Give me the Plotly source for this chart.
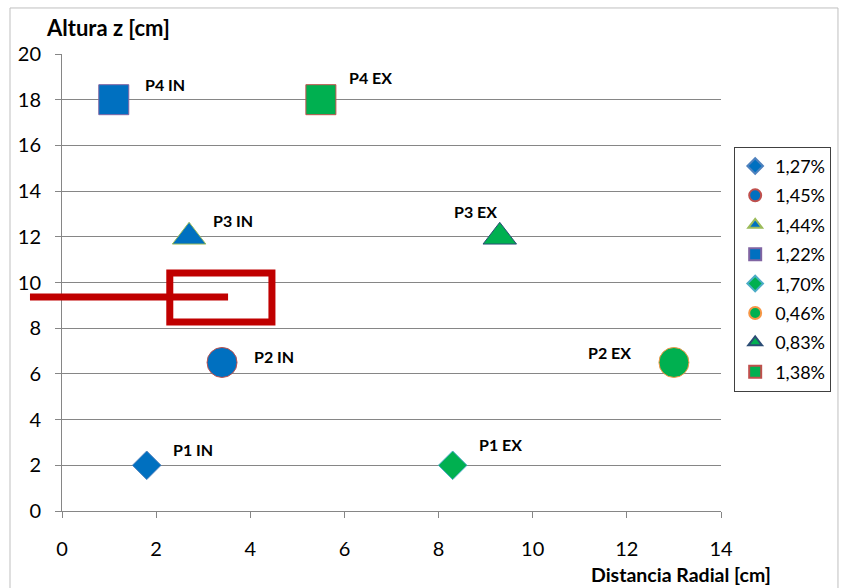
import plotly.graph_objects as go

# Measurement points: radial distance and height, with the value shown in the legend
point_names = ["P1 IN", "P2 IN", "P3 IN", "P4 IN", "P1 EX", "P2 EX", "P3 EX", "P4 EX"]
radial_cm = [1.8, 3.4, 2.7, 1.1, 8.3, 13.0, 9.3, 5.5]
height_cm = [2, 6.5, 12, 18, 2, 6.5, 12, 18]
legend_values = ["1,27%", "1,45%", "1,44%", "1,22%", "1,70%", "0,46%", "0,83%", "1,38%"]

x_ticks = [0, 2, 4, 6, 8, 10, 12, 14]
y_ticks = [0, 2, 4, 6, 8, 10, 12, 14, 16, 18, 20]

BLUE = "#0070C0"
GREEN = "#00B050"
symbols = ["diamond", "circle", "triangle-up", "square"] * 2
fills = [BLUE] * 4 + [GREEN] * 4
outlines = ["#4F81BD", "#C0504D", "#9BBB59", "#8064A2",
            "#4BACC6", "#F79646", "#2C4D75", "#C0504D"]
sizes = [22, 30, 29, 30, 22, 30, 29, 30]

# label offsets (pixels) and anchor for each point label
label_shift = [(24, 16, "left"), (30, 6, "left"), (22, 16, "left"), (29, 15, "left"),
               (24, 21, "left"), (-41, 10, "right"), (-1, 25, "right"), (26, 22, "left")]

FONT = "Lato, 'Liberation Sans', sans-serif"

fig = go.Figure()
for i, name in enumerate(point_names):
    fig.add_trace(go.Scatter(
        x=[radial_cm[i]], y=[height_cm[i]],
        mode="markers",
        name=legend_values[i],
        legendgroup=f"g{i}",
        marker=dict(symbol=symbols[i], size=sizes[i], color=fills[i],
                    line=dict(color=outlines[i], width=1)),
        hoverinfo="skip",
    ))

annotations = []
for i, name in enumerate(point_names):
    dx, dy, anchor = label_shift[i]
    annotations.append(dict(
        x=radial_cm[i], y=height_cm[i], xref="x", yref="y",
        text=f"<b>{name}</b>", showarrow=False,
        xanchor=anchor, yanchor="middle", xshift=dx, yshift=dy,
        font=dict(family=FONT, size=16, color="#000000"),
    ))

annotations.append(dict(
    x=-0.027, y=1.057, xref="paper", yref="paper",
    text="<b>Altura z [cm]</b>", showarrow=False,
    xanchor="left", yanchor="middle",
    font=dict(family=FONT, size=22, color="#000000"),
))
annotations.append(dict(
    x=1.079, y=-0.140, xref="paper", yref="paper",
    text="<b>Distancia Radial [cm]</b>", showarrow=False,
    xanchor="right", yanchor="middle",
    font=dict(family=FONT, size=19.5, color="#000000"),
))

shapes = [
    # outer chart frame
    dict(type="rect", xref="paper", yref="paper",
         x0=-0.0789, x1=1.1775, y0=-0.19, y1=1.1007,
         line=dict(color="#BFBFBF", width=1), layer="below"),
    # red highlight marks
    dict(type="line", xref="paper", yref="y",
         x0=-0.0486, x1=0.252, y0=9.37, y1=9.37,
         line=dict(color="#C00000", width=7)),
    dict(type="rect", xref="x", yref="y",
         x0=2.29, x1=4.46, y0=8.27, y1=10.42,
         line=dict(color="#C00000", width=7)),
]

axis_common = dict(
    showline=True, linecolor="#868686", linewidth=1,
    ticks="outside", ticklen=6, tickcolor="#868686",
    tickfont=dict(family=FONT, size=20, color="#000000"),
    zeroline=False,
)

fig.update_layout(
    width=841, height=588,
    margin=dict(l=62, r=120, t=54, b=77, autoexpand=False),
    paper_bgcolor="white", plot_bgcolor="white",
    showlegend=True,
    legend=dict(
        x=1.020, y=0.797, xanchor="left", yanchor="top",
        bordercolor="#404040", borderwidth=1,
        font=dict(family=FONT, size=18, color="#000000"),
        tracegroupgap=3, itemwidth=30, itemsizing="constant",
    ),
    xaxis=dict(range=[0, 14], tickvals=x_ticks, showgrid=False,
               ticklabelstandoff=14, **axis_common),
    yaxis=dict(range=[0, 20], tickvals=y_ticks, showgrid=True,
               gridcolor="#868686", gridwidth=1, ticklabelstandoff=10,
               **axis_common),
    annotations=annotations,
    shapes=shapes,
)

fig.write_html("out.html")
